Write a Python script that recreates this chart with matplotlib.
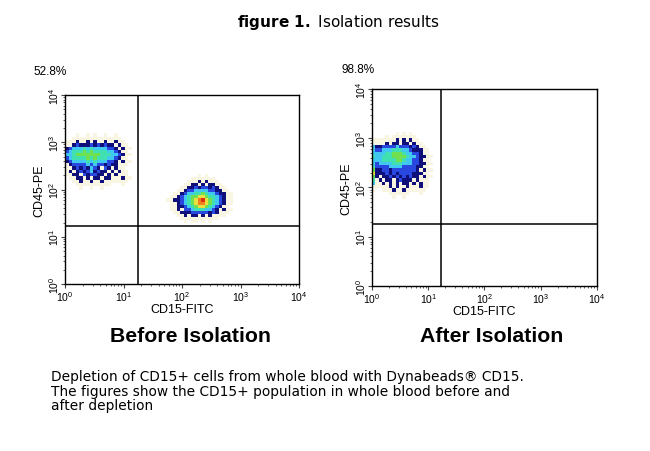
import numpy as np
import matplotlib.pyplot as plt
from matplotlib.colors import ListedColormap, BoundaryNorm
from matplotlib.ticker import LogLocator

plt.rcParams['font.family'] = ['Liberation Sans', 'DejaVu Sans']

# event density, rows top -> bottom
# 0 = no events, 1 (few, dark blue) .. 8 (many, red)
before_cd15_neg = [
    "000100101001001000",
    "001211121212110100",
    "123334343333221010",
    "234445454444332100",
    "334555555544433210",
    "234444545444332100",
    "123333434333221010",
    "012222323221211000",
    "001212132102101000",
    "010121231211010100",
    "001102122110101000",
    "000110101101100010",
    "000010010010000000",
]
before_cd15_pos = [
    "000000010100000",
    "000001101011000",
    "000011212212100",
    "000122333322110",
    "001233445433211",
    "012345566544321",
    "112345678654321",
    "012345677654321",
    "011234566543210",
    "010223444332101",
    "001112222212100",
    "000101101010000",
]
after_cd15_neg = [
    "00000001010100000",
    "00001011011010000",
    "31122223222121000",
    "32233344433211100",
    "33334455543322100",
    "43344455554332110",
    "33344445543322100",
    "32333344433322110",
    "42222333322221100",
    "51122122222221010",
    "61112121222211100",
    "51011212121211010",
    "40101101211101000",
    "30010101011010100",
    "00000101001000100",
    "00000010010000000",
]
# grid origin (log10 units): x start, x step, y top, y step
before_neg_grid = (0.0, 0.06, 3.05, 0.07)
before_pos_grid = (1.85, 0.06, 2.2, 0.065)
after_neg_grid = (0.0, 0.06, 3.0, 0.068)

# quadrant gates (log10)
before_gate = (1.25, 1.23)
after_gate = (1.23, 1.26)
before_pct = "52.8%"
after_pct = "98.8%"

colors = ["#10107a", "#2848e0", "#40c8f0", "#40e0b0", "#70e050",
          "#e8e040", "#f08020", "#d83010"]
cmap = ListedColormap(colors)
norm = BoundaryNorm(np.arange(0.5, 9.5, 1), cmap.N)


def draw_grid(ax, rows, grid):
    x0, dx, ytop, dy = grid
    z = np.array([[int(c) for c in r] for r in rows])
    pad = 2
    zp = np.pad(z, pad)
    ny, nx = zp.shape
    xe = 10 ** (x0 - pad * dx + dx * np.arange(nx + 1))
    ye = 10 ** (ytop + pad * dy - dy * np.arange(ny + 1))
    # faint halo around populations
    m = zp > 0
    dil = m.copy()
    for i in range(-pad, pad + 1):
        for j in range(-pad, pad + 1):
            if i * i + j * j <= pad * pad:
                dil |= np.roll(np.roll(m, i, 0), j, 1)
    halo = np.ma.masked_where(~(dil & ~m), np.ones_like(zp))
    ax.pcolormesh(xe, ye, halo, cmap=ListedColormap(["#f8f6e2"]), zorder=1)
    ax.pcolormesh(xe, ye, np.ma.masked_equal(zp, 0), cmap=cmap, norm=norm, zorder=2)


def setup(ax, gate):
    ax.set_xscale('log')
    ax.set_yscale('log')
    ax.set_xlim(1, 1e4)
    ax.set_ylim(1, 1e4)
    ax.xaxis.set_major_locator(LogLocator(base=10, numticks=10))
    ax.yaxis.set_major_locator(LogLocator(base=10, numticks=10))
    ax.tick_params(which='both', direction='out', labelsize=7.5, color='#444444')
    ax.tick_params(which='major', length=3, width=0.8)
    ax.tick_params(which='minor', length=1.5, width=0.6)
    ax.tick_params(axis='y', labelrotation=90, pad=0)
    ax.tick_params(axis='x', pad=1)
    for lab in ax.get_yticklabels():
        lab.set_va('center')
    for s in ax.spines.values():
        s.set_linewidth(1.0)
    ax.axvline(10 ** gate[0], color='black', lw=1.1, zorder=3)
    ax.axhline(10 ** gate[1], color='black', lw=1.1, zorder=3)
    ax.set_xlabel("CD15-FITC", fontsize=9, labelpad=0)
    ax.set_ylabel("CD45-PE", fontsize=9, labelpad=1)


fig = plt.figure(figsize=(6.5, 4.52), dpi=100)
ax1 = fig.add_axes([0.100, 0.3695, 0.360, 0.418])
ax2 = fig.add_axes([0.5723, 0.365, 0.346, 0.436])

draw_grid(ax1, before_cd15_neg, before_neg_grid)
draw_grid(ax1, before_cd15_pos, before_pos_grid)
draw_grid(ax2, after_cd15_neg, after_neg_grid)
setup(ax1, before_gate)
setup(ax2, after_gate)

fig.text(338 / 650, 1 - 22 / 452, r"$\bf{figure\ 1.}$ Isolation results", ha='center', va='center',
         fontsize=11, family='DejaVu Sans')
fig.text(33 / 650, 1 - 72 / 452, before_pct, fontsize=8.5, va='center')
fig.text(341 / 650, 1 - 70 / 452, after_pct, fontsize=8.5, va='center')
fig.text(191 / 650, 1 - 336 / 452, "Before Isolation", ha='center', va='center',
         fontsize=15.3, fontweight='bold')
fig.text(492 / 650, 1 - 336 / 452, "After Isolation", ha='center', va='center',
         fontsize=15.3, fontweight='bold')
fig.text(51 / 650, 1 - 370 / 452,
         "Depletion of CD15+ cells from whole blood with Dynabeads\u00ae CD15.\n"
         "The figures show the CD15+ population in whole blood before and\n"
         "after depletion",
         ha='left', va='top', fontsize=9.9, family='DejaVu Sans', linespacing=1.05)

fig.savefig("out.png", dpi=100)
